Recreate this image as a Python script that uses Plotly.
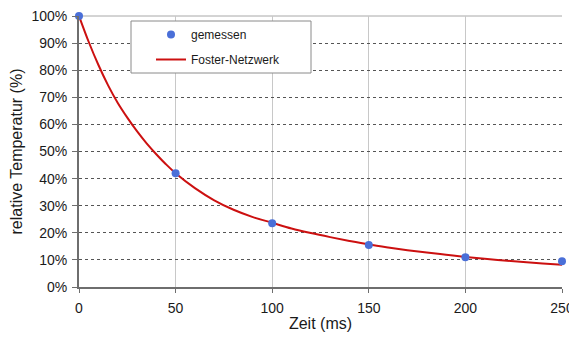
import plotly.graph_objects as go

# measured points
t_meas = [0, 50, 100, 150, 200, 250]
y_meas = [1.00, 0.42, 0.235, 0.155, 0.11, 0.095]

# Foster network curve
t_fit = [0, 5, 10, 15, 20, 25, 30, 35, 40, 45, 50, 60, 70, 80, 90, 100, 110, 120,
         130, 140, 150, 160, 170, 180, 190, 200, 210, 220, 230, 240, 250]
y_fit = [1.00, 0.905, 0.82, 0.745, 0.68, 0.625, 0.575, 0.53, 0.49, 0.453, 0.42,
         0.365, 0.32, 0.285, 0.258, 0.237, 0.216, 0.199, 0.184, 0.170, 0.157,
         0.146, 0.136, 0.127, 0.119, 0.111, 0.104, 0.098, 0.092, 0.087, 0.082]

y_ticks = [i / 10 for i in range(11)]
y_ticktext = [f"{i*10}%" for i in range(11)]
x_ticks = [0, 50, 100, 150, 200, 250]

# the page body has an 8px margin, so the figure is drawn 8px smaller
W, H = 569, 334
ML, MR, MT, MB = 71, 15, 8, 55
PW = W - ML - MR
PH = H - MT - MB

fig = go.Figure()
fig.add_trace(go.Scatter(x=t_fit, y=y_fit, mode="lines", name="Foster-Netzwerk",
                         legendrank=2, legendgroup="b",
                         line=dict(color="#cc1010", width=2, shape="spline"),
                         cliponaxis=False))
fig.add_trace(go.Scatter(x=t_meas, y=y_meas, mode="markers", name="gemessen",
                         legendrank=1, legendgroup="a",
                         marker=dict(color="#4a6fd8", size=8), cliponaxis=False))

fig.update_layout(
    width=W, height=H,
    margin=dict(l=ML, r=MR, t=MT, b=MB),
    paper_bgcolor="white", plot_bgcolor="white",
    font=dict(family="Liberation Sans, Arial, sans-serif", size=13, color="#1a1a1a"),
    showlegend=True,
    legend=dict(x=72 / PW, y=(PH - 4) / PH, xanchor="left", yanchor="top",
                bgcolor="rgba(0,0,0,0)", borderwidth=0,
                font=dict(size=12), traceorder="grouped", tracegroupgap=6),
    shapes=[dict(type="rect", xref="paper", yref="paper",
                 x0=52 / PW, x1=232 / PW,
                 y0=(PH - 57) / PH, y1=(PH - 5) / PH,
                 line=dict(color="#8a8a8a", width=1), fillcolor="white", layer="above"),
            dict(type="line", xref="paper", yref="paper", x0=0, x1=1, y0=1, y1=1,
                 line=dict(color="#a8a8a8", width=1), layer="below")],
    xaxis=dict(range=[0, 250], tickvals=x_ticks, showgrid=True, gridcolor="#c8c8c8",
               gridwidth=1, showline=True, linecolor="#6e6e6e", linewidth=2,
               ticks="outside", ticklen=4, tickcolor="#6e6e6e", zeroline=False,
               automargin=False, tickfont=dict(size=14), ticklabelstandoff=3,
               ticklabeloverflow="allow",
               title=dict(text="Zeit (ms)", standoff=3)),
    yaxis=dict(range=[0, 1], tickvals=y_ticks, ticktext=y_ticktext, showgrid=True,
               gridcolor="#555555", griddash="dot", gridwidth=1, showline=True,
               linecolor="#6e6e6e", linewidth=2, ticks="outside", ticklen=5,
               tickcolor="#6e6e6e", zeroline=False, automargin=False,
               tickfont=dict(size=14), ticklabelstandoff=2,
               ticklabeloverflow="allow",
               title=dict(text="relative Temperatur (%)", standoff=12)),
)
fig.write_html("out.html")
